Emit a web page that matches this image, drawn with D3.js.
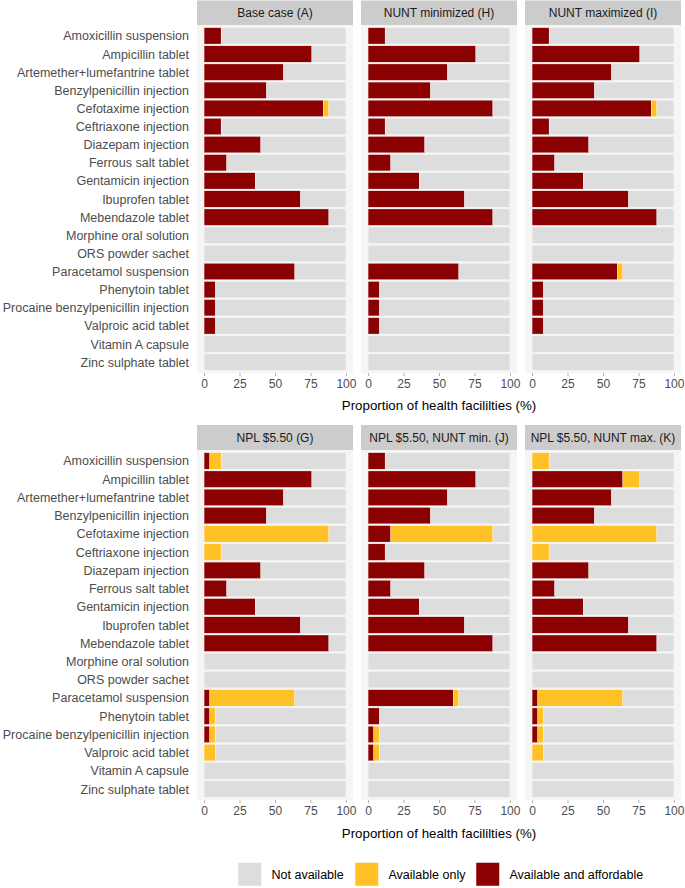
<!DOCTYPE html>
<html><head><meta charset="utf-8">
<script src="https://cdn.jsdelivr.net/npm/d3@7"></script>
<style>
body{margin:0;background:#fff}
text{font-family:"Liberation Sans",Arial,Helvetica,sans-serif}
</style>
</head><body>
<svg id="chart" width="685" height="888"></svg>
<script>
// ---------- data ----------
const medicines = ["Amoxicillin suspension","Ampicillin tablet","Artemether+lumefantrine tablet","Benzylpenicillin injection","Cefotaxime injection","Ceftriaxone injection","Diazepam injection","Ferrous salt tablet","Gentamicin injection","Ibuprofen tablet","Mebendazole tablet","Morphine oral solution","ORS powder sachet","Paracetamol suspension","Phenytoin tablet","Procaine benzylpenicillin injection","Valproic acid tablet","Vitamin A capsule","Zinc sulphate tablet"];
const panelTitles = ["Base case (A)","NUNT minimized (H)","NUNT maximized (I)","NPL $5.50 (G)","NPL $5.50, NUNT min. (J)","NPL $5.50, NUNT max. (K)"];
// % of facilities where medicine is available and affordable
const affordableA = [12,76,56,44,84,12,40,16,36,68,88,0,0,64,8,8,8,0,0];
const affordableH = [12,76,56,44,88,12,40,16,36,68,88,0,0,64,8,8,8,0,0];
const affordableI = [12,76,56,44,84,12,40,16,36,68,88,0,0,60,8,8,8,0,0];
const affordableG = [4,76,56,44,0,0,40,16,36,68,88,0,0,4,4,4,0,0,0];
const affordableJ = [12,76,56,44,16,12,40,16,36,68,88,0,0,60,8,4,4,0,0];
const affordableK = [0,64,56,44,0,0,40,16,36,68,88,0,0,4,4,4,0,0,0];
// % of facilities where medicine is available but not affordable
const availOnlyA = [0,0,0,0,4,0,0,0,0,0,0,0,0,0,0,0,0,0,0];
const availOnlyH = [0,0,0,0,0,0,0,0,0,0,0,0,0,0,0,0,0,0,0];
const availOnlyI = [0,0,0,0,4,0,0,0,0,0,0,0,0,4,0,0,0,0,0];
const availOnlyG = [8,0,0,0,88,12,0,0,0,0,0,0,0,60,4,4,8,0,0];
const availOnlyJ = [0,0,0,0,72,0,0,0,0,0,0,0,0,4,0,4,4,0,0];
const availOnlyK = [12,12,0,0,88,12,0,0,0,0,0,0,0,60,4,4,8,0,0];
const legendLabels = ["Not available","Available only","Available and affordable"];
const xTicks = [0,25,50,75,100];
const xTitle = "Proportion of health facililties (%)";

const affordable = [affordableA,affordableH,affordableI,affordableG,affordableJ,affordableK];
const availOnly = [availOnlyA,availOnlyH,availOnlyI,availOnlyG,availOnlyJ,availOnlyK];

// ---------- style / layout ----------
const colors = {"Not available":"#DDDDDD","Available only":"#FFC125","Available and affordable":"#8B0000"};
const panelX = [197,361,525];
const panelW = 156;
const rows = [
  {stripTop:0.5, panelTop:25, panelBottom:373, tickY:390.5, titleY:410},
  {stripTop:425, panelTop:450, panelBottom:800, tickY:818.5, titleY:838}
];

const svg = d3.select("#chart");

panelTitles.forEach((title,p)=>{
  const r = rows[Math.floor(p/3)];
  const x0 = panelX[p%3];
  const x = d3.scaleLinear().domain([-5,105]).range([x0,x0+panelW]);
  const y = d3.scaleLinear().domain([0.4, medicines.length+0.6]).range([r.panelTop, r.panelBottom]);
  const g = svg.append("g");

  g.append("rect").attr("x",x0).attr("y",r.panelTop).attr("width",panelW)
    .attr("height",r.panelBottom-r.panelTop).attr("fill","#F5F5F5");
  g.append("rect").attr("x",x0).attr("y",r.stripTop).attr("width",panelW)
    .attr("height",r.panelTop-r.stripTop).attr("fill","#CCCCCC");
  g.append("text").attr("x",x0+panelW/2).attr("y",(r.stripTop+r.panelTop)/2)
    .attr("dy","0.36em").attr("text-anchor","middle").attr("font-size","12px")
    .attr("fill","#1A1A1A").text(title);

  const segs = [];
  medicines.forEach((m,i)=>{
    const a = affordable[p][i], b = availOnly[p][i];
    segs.push({i, s:0, e:a, k:"Available and affordable"});
    segs.push({i, s:a, e:a+b, k:"Available only"});
    segs.push({i, s:a+b, e:100, k:"Not available"});
  });
  g.selectAll("rect.bar").data(segs.filter(d=>d.e>d.s)).join("rect")
    .attr("class","bar")
    .attr("x",d=>x(d.s)).attr("width",d=>x(d.e)-x(d.s))
    .attr("y",d=>y(d.i+1-0.45)).attr("height",d=>y(d.i+1+0.45)-y(d.i+1-0.45))
    .attr("fill",d=>colors[d.k]).attr("stroke","#fff").attr("stroke-width",0.3);

  // x axis
  const ax = g.append("g").attr("transform",`translate(0,${r.panelBottom})`)
    .call(d3.axisBottom(x).tickValues(xTicks).tickSize(3).tickPadding(3).tickFormat(d3.format("d")));
  ax.select(".domain").remove();
  ax.selectAll(".tick line").attr("stroke","#B3B3B3");
  ax.selectAll(".tick text").attr("font-size","12px").attr("fill","#4D4D4D")
    .attr("font-family","Liberation Sans, Arial, sans-serif");

  // y labels on first column
  if (p%3===0) {
    g.selectAll("text.ylab").data(medicines).join("text").attr("class","ylab")
      .attr("x",x0-8).attr("y",(d,i)=>y(i+1)).attr("dy","0.36em")
      .attr("text-anchor","end").attr("font-size","12.5px").attr("fill","#4D4D4D").text(d=>d);
  }
});

// axis titles
rows.forEach(r=>{
  svg.append("text").attr("x",(panelX[0]+panelX[2]+panelW)/2).attr("y",r.titleY)
    .attr("text-anchor","middle").attr("font-size","13.3px").attr("fill","#000").text(xTitle);
});

// legend
const legendX = [238,355,476];
legendLabels.forEach((lab,i)=>{
  svg.append("rect").attr("x",legendX[i]).attr("y",862.5).attr("width",23.5).attr("height",23.5)
    .attr("fill",colors[lab]).attr("stroke","#fff").attr("stroke-width",0.5);
  svg.append("text").attr("x",legendX[i]+33.5).attr("y",874.5).attr("dy","0.36em")
    .attr("font-size","12.5px").attr("fill","#000").text(lab);
});
</script>
</body></html>
